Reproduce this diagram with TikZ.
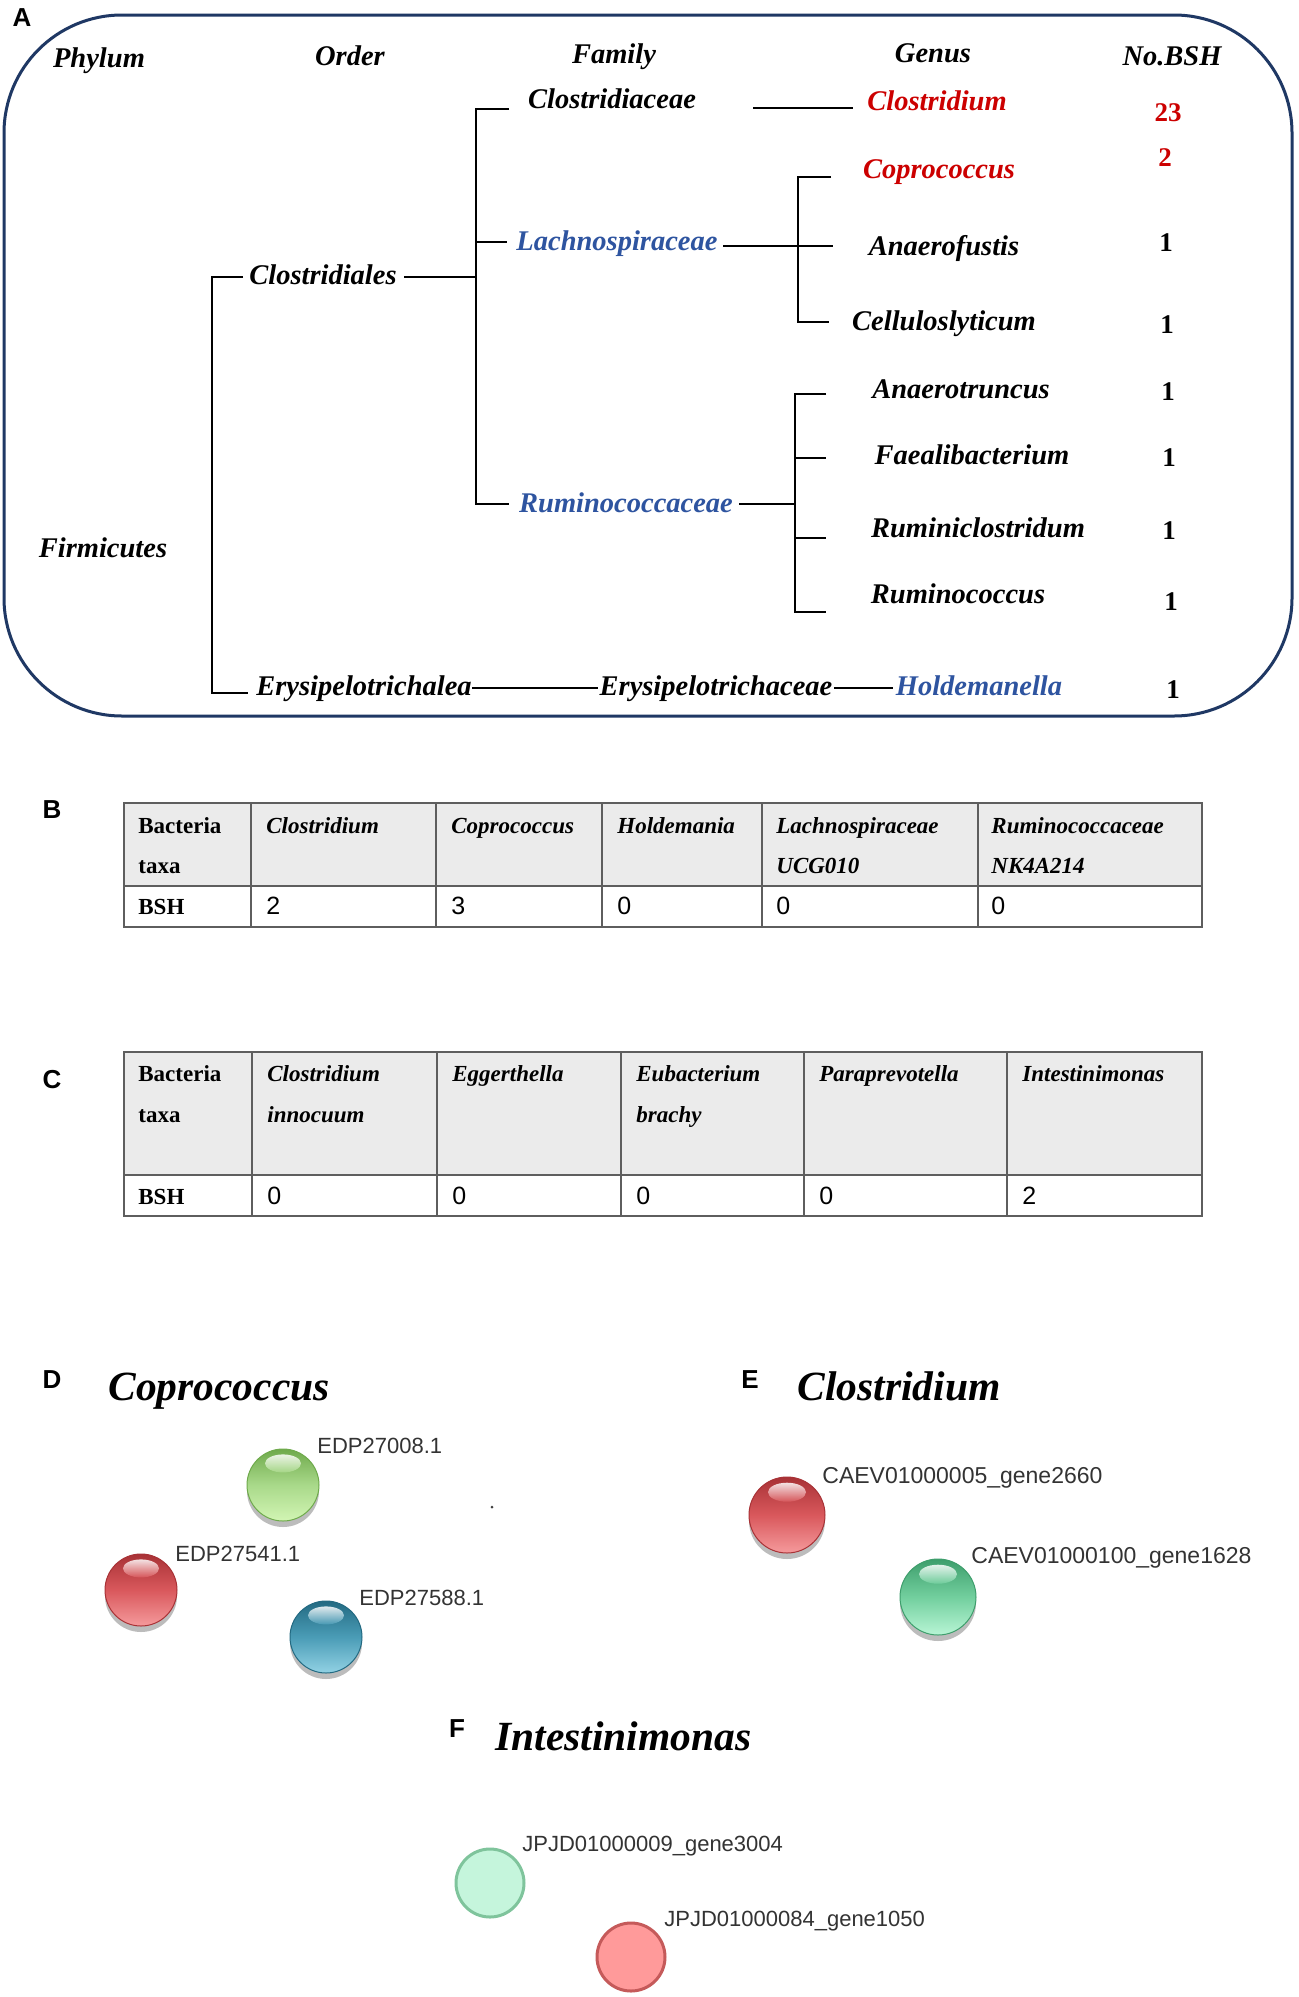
\documentclass[tikz,border=0pt]{standalone}
\usepackage{fontspec}
\setmainfont{Liberation Serif}
\newfontfamily\arialf{Liberation Sans}
\definecolor{navy}{HTML}{1F3864}
\definecolor{tred}{HTML}{CC0000}
\definecolor{tblue}{HTML}{2E54A0}
\definecolor{hdrgray}{HTML}{EBEBEB}
\definecolor{tline}{HTML}{5E5E5E}
\definecolor{rdk}{HTML}{A83236}
\definecolor{rbs}{HTML}{D9585C}
\definecolor{rlt}{HTML}{F59A9C}
\definecolor{gdk}{HTML}{6FAA4C}
\definecolor{gbs}{HTML}{A9D98A}
\definecolor{glt}{HTML}{D2F5B4}
\definecolor{bdk}{HTML}{236A82}
\definecolor{bbs}{HTML}{4A9CB6}
\definecolor{blt}{HTML}{92D2E4}
\definecolor{mdk}{HTML}{3E9E6C}
\definecolor{mbs}{HTML}{72CF9E}
\definecolor{mlt}{HTML}{B8F5D5}
\definecolor{fgf}{HTML}{C5F5DC}
\definecolor{fgs}{HTML}{7FC49C}
\definecolor{frf}{HTML}{FF9A9A}
\definecolor{frs}{HTML}{C55A5A}
\newcommand\gball[7]{%
  \fill[gray!70, opacity=0.75] (#2,#3+6) circle[radius=#7pt];
  \node[circle, minimum size=2*#7pt, inner sep=0pt, top color=#4, bottom color=#6, middle color=#5, draw=#4, line width=0.5pt] (#1) at (#2,#3) {};
  \shade[top color=white, bottom color=#5, opacity=0.85] (#2,#3-1.2*#7) ellipse[x radius=0.5*#7pt, y radius=0.25*#7pt];
}
\begin{document}
\begin{tikzpicture}[x=0.5pt,y=-0.5pt,
  tx/.style={font=\fontsize{14.25}{17}\selectfont\bfseries\itshape, inner sep=0pt, anchor=base},
  num/.style={font=\fontsize{13.5}{16}\selectfont\bfseries, inner sep=0pt},
  br/.style={line width=1pt, black},
  tl/.style={line width=1.1pt, tline},
  tb/.style={font=\fontsize{11.5}{13}\selectfont\bfseries, anchor=base west, inner sep=0pt},
  tbi/.style={font=\fontsize{11.5}{13}\selectfont\bfseries\itshape, anchor=base west, inner sep=0pt},
  tn/.style={font=\arialf\fontsize{12.5}{14}\selectfont, anchor=base west, inner sep=0pt},
  pl/.style={font=\arialf\bfseries\fontsize{13}{15}\selectfont, anchor=base, inner sep=0pt},
  ti/.style={font=\fontsize{20.75}{24}\selectfont\bfseries\itshape, anchor=base west, inner sep=0pt},
  lab/.style={font=\arialf\fontsize{11}{13}\selectfont, text=black!80, anchor=base west, inner sep=0pt},
  labe/.style={lab, font=\arialf\fontsize{11.5}{13}\selectfont}
]
\useasboundingbox (0,0) rectangle (1299,1997);
\fill[white] (0,0) rectangle (1299,1997);

% ---------------- Panel A ----------------
\draw[navy, line width=1.5pt, rounded corners=59pt] (4,15) rectangle (1292,716);
\node[pl] (lA) at (22,26) {A};

\node[tx] (hphy) at (99,67) {Phylum};
\node[tx] (hord) at (350,65) {Order};
\node[tx] (hfam) at (614,63) {Family};
\node[tx] (hgen) at (933,62) {Genus};
\node[tx] (hbsh) at (1172,65) {No.BSH};

\node[tx] (firm) at (103,557) {Firmicutes};
\node[tx] (clos) at (323,284) {Clostridiales};
\node[tx] (erya) at (364,695) {Erysipelotrichalea};
\node[tx] (cfam) at (612,108) {Clostridiaceae};
\node[tx,tblue] (lfam) at (617,250) {Lachnospiraceae};
\node[tx,tblue] (rfam) at (626,512) {Ruminococcaceae};
\node[tx] (efam) at (716,695) {Erysipelotrichaceae};
\node[tx,tred] (gclo) at (937,110) {Clostridium};
\node[tx,tred] (gcop) at (939,178) {Coprococcus};
\node[tx] (gana) at (944,255) {Anaerofustis};
\node[tx] (gcel) at (944,330) {Celluloslyticum};
\node[tx] (gant) at (961,398) {Anaerotruncus};
\node[tx] (gfae) at (972,464) {Faealibacterium};
\node[tx] (grmc) at (978,537) {Ruminiclostridum};
\node[tx] (grum) at (958,603) {Ruminococcus};
\node[tx,tblue] (ghol) at (979,695) {Holdemanella};

\node[num,tred] (n1) at (1168,113) {23};
\node[num,tred] (n2) at (1165,158) {2};
\node[num] (n3) at (1166,243) {1};
\node[num] (n4) at (1167,325) {1};
\node[num] (n5) at (1168,392) {1};
\node[num] (n6) at (1169,458) {1};
\node[num] (n7) at (1169,531) {1};
\node[num] (n8) at (1171,602) {1};
\node[num] (n9) at (1173,690) {1};

% tree connectors
\coordinate (p1) at (212,277); \coordinate (p2) at (212,693);
\coordinate (f1) at (476,109); \coordinate (f2) at (476,504);
\coordinate (l1) at (798,177); \coordinate (l2) at (798,322);
\coordinate (r1) at (795,394); \coordinate (r2) at (795,612);
\draw[br] (243,277) -- (p1) -- (p2) -- (248,693);
\draw[br] (404,277) -- (475,277);
\draw[br] (509,109) -- (f1) -- (f2) -- (509,504);
\draw[br] (f1 |- 0,242) -- (507,242);
\draw[br] (753,108) -- (853,108);
\draw[br] (723,246) -- (l1 |- 0,246);
\draw[br] (831,177) -- (l1) -- (l2) -- (829,322);
\draw[br] (l1 |- 0,246) -- (833,246);
\draw[br] (739,504) -- (r1 |- 0,504);
\draw[br] (826,394) -- (r1) -- (r2) -- (826,612);
\draw[br] (r1 |- 0,458) -- (826,458);
\draw[br] (r1 |- 0,538) -- (826,538);
\draw[br] (472,688) -- (598,688);
\draw[br] (834,688) -- (893,688);

% ---------------- Panel B ----------------
\node[pl] (lB) at (52,818) {B};
\fill[hdrgray] (124,803) rectangle (1202,886);
\draw[tl] (124,803) rectangle (1202,927);
\draw[tl] (124,886) -- (1202,886);
\foreach \cx in {251,436,602,762,978} \draw[tl] (\cx,803) -- (\cx,927);
\node[tb] (b11) at (138,833) {Bacteria};
\node[tb] (b12) at (138,873) {taxa};
\node[tbi] (b2) at (266,833) {Clostridium};
\node[tbi] (b3) at (451,833) {Coprococcus};
\node[tbi] (b4) at (617,833) {Holdemania};
\node[tbi] (b51) at (776,833) {Lachnospiraceae};
\node[tbi] (b52) at (776,873) {UCG010};
\node[tbi] (b61) at (991,833) {Ruminococcaceae};
\node[tbi] (b62) at (991,873) {NK4A214};
\node[tb] (bb) at (138,914) {BSH};
\node[tn] (bv2) at (266,914) {2};
\node[tn] (bv3) at (451,914) {3};
\node[tn] (bv4) at (617,914) {0};
\node[tn] (bv5) at (776,914) {0};
\node[tn] (bv6) at (991,914) {0};

% ---------------- Panel C ----------------
\node[pl] (lC) at (52,1088) {C};
\fill[hdrgray] (124,1052) rectangle (1202,1175);
\draw[tl] (124,1052) rectangle (1202,1216);
\draw[tl] (124,1175) -- (1202,1175);
\foreach \cx in {252,437,621,804,1007} \draw[tl] (\cx,1052) -- (\cx,1216);
\node[tb] (c11) at (138,1081) {Bacteria};
\node[tb] (c12) at (138,1122) {taxa};
\node[tbi] (c21) at (267,1081) {Clostridium};
\node[tbi] (c22) at (267,1122) {innocuum};
\node[tbi] (c3) at (452,1081) {Eggerthella};
\node[tbi] (c41) at (636,1081) {Eubacterium};
\node[tbi] (c42) at (636,1122) {brachy};
\node[tbi] (c5) at (819,1081) {Paraprevotella};
\node[tbi] (c6) at (1022,1081) {Intestinimonas};
\node[tb] (cb) at (138,1204) {BSH};
\node[tn] (cv2) at (267,1204) {0};
\node[tn] (cv3) at (452,1204) {0};
\node[tn] (cv4) at (636,1204) {0};
\node[tn] (cv5) at (819,1204) {0};
\node[tn] (cv6) at (1022,1204) {2};

% ---------------- Panel D ----------------
\node[pl] (lD) at (52,1388) {D};
\node[ti] (tD) at (108,1400) {Coprococcus};
\gball{dg}{283}{1485}{gdk}{gbs}{glt}{18}
\gball{dr}{141}{1590}{rdk}{rbs}{rlt}{18}
\gball{db}{326}{1637}{bdk}{bbs}{blt}{18}
\node[lab] (ldg) at (317,1453) {EDP27008.1};
\node[lab] (ldr) at (175,1561) {EDP27541.1};
\node[lab] (ldb) at (359,1605) {EDP27588.1};
\node[circle, fill=black!75, inner sep=0pt, minimum size=1.5pt] (dot) at (492,1507) {};

% ---------------- Panel E ----------------
\node[pl] (lE) at (750,1388) {E};
\node[ti] (tE) at (797,1400) {Clostridium};
\gball{er}{787}{1515}{rdk}{rbs}{rlt}{19}
\gball{eg}{938}{1597}{mdk}{mbs}{mlt}{19}
\node[labe] (ler) at (822,1483) {CAEV01000005\_gene2660};
\node[labe] (leg) at (971,1563) {CAEV01000100\_gene1628};

% ---------------- Panel F ----------------
\node[pl] (lF) at (457,1737) {F};
\node[ti] (tF) at (495,1750) {Intestinimonas};
\node[circle, minimum size=34pt, inner sep=0pt, fill=fgf, draw=fgs, line width=1.5pt] (fg) at (490,1883) {};
\node[circle, minimum size=34pt, inner sep=0pt, fill=frf, draw=frs, line width=1.5pt] (fr) at (631,1957) {};
\node[lab] (lfg) at (522,1851) {JPJD01000009\_gene3004};
\node[lab] (lfr) at (664,1926) {JPJD01000084\_gene1050};
\end{tikzpicture}
\end{document}
